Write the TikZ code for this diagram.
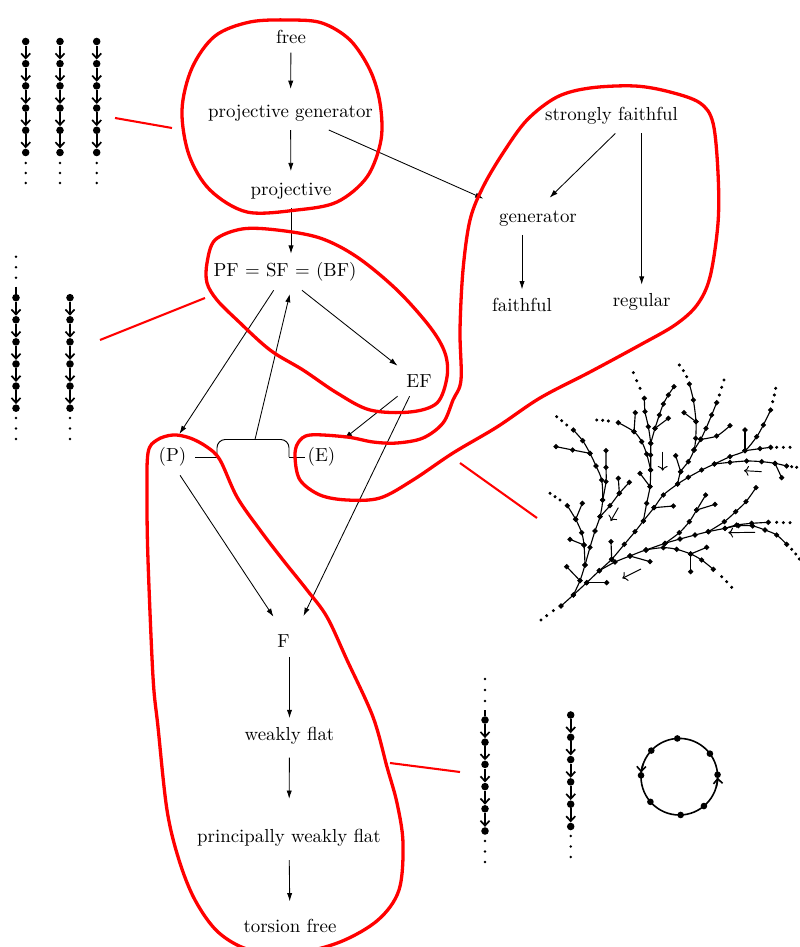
\documentclass[tikz,border=0pt]{standalone}
\usepackage{amsmath,amssymb}
\usetikzlibrary{arrows.meta}

\tikzset{
  prop/.style={inner sep=4.5pt},
  imp/.style={-{Latex[length=4.4pt,width=2.8pt]}, line width=0.45pt},
  blob/.style={red, line width=1.75pt},
  link/.style={red, line width=1.1pt},
  bar/.style={line width=0.5pt},
  vtx/.style={circle, fill, inner sep=0pt, minimum size=4pt},
  tdot/.style={circle, fill, inner sep=0pt, minimum size=1.4pt},
  cedge/.style={-{Straight Barb[length=2.6pt,width=4.8pt]}, line width=0.9pt},
  twig/.style={line width=0.6pt, mark size=1.05pt},
  tail/.style={mark size=0.6pt},
  flow/.style={-{To[length=2.5pt]}, line width=0.5pt},
}

\begin{document}
\begin{tikzpicture}[x=0.53pt, y=-0.53pt]
  \useasboundingbox (0,0) rectangle (800,947);

  % properties
  \node[prop] (free)   at (291,37)      {free};
  \node[prop] (projgen) at (290.5,113)  {projective generator};
  \node[prop] (proj)   at (291,191)     {projective};
  \node[prop] (pf)     at (285,272)     {PF $=$ SF $=$ (BF)};
  \node[prop] (ef)     at (419,381)     {EF};
  \node[prop] (P)      at (172.5,457)   {(P)};
  \node[prop] (E)      at (321.5,457)   {(E)};
  \node[prop] (F)      at (283.5,641.5) {F};
  \node[prop] (wflat)  at (289.5,735.5) {weakly flat};
  \node[prop] (pwflat) at (289,838)     {principally weakly flat};
  \node[prop] (tfree)  at (290,926)     {torsion free};
  \node[prop] (sfaith) at (611.5,116)   {strongly faithful};
  \node[prop] (gen)    at (538,218.3)   {generator};
  \node[prop] (faith)  at (522,305)     {faithful};
  \node[prop] (reg)    at (641.7,302)   {regular};

  % implications
  \draw[imp, shorten >=3.7pt] (free) -- (projgen);
  \draw[imp, shorten >=1.5pt] (projgen) -- (proj);
  \draw[imp] (proj.south) -- (proj.south |- pf.north);
  \draw[imp, shorten >=4pt] (projgen) -- (gen.north west);
  \draw[imp, shorten >=3pt] ([xshift=2pt]sfaith.south) -- ([xshift=4pt]gen.north);
  \draw[imp] (sfaith.south -| reg) -- (reg.north);
  \draw[imp] (gen.south -| faith) -- (faith.north);
  \draw[imp, shorten >=3pt] ([xshift=-6pt]pf.south) -- ([xshift=2pt]P.north);
  \draw[imp] ([xshift=9pt]pf.south) -- (ef.north west);
  \draw[imp] (ef.south west) -- (E.north east);
  \draw[imp, shorten >=6pt] ([xshift=-5pt]ef.south) -- (F.north east);
  \draw[imp, shorten >=6pt] ([xshift=4pt]P.south) -- ([xshift=-2pt]F.north);
  \draw[imp] (F.south -| wflat) -- (wflat.north);
  \draw[imp, shorten <=2.5pt, shorten >=11.5pt] (wflat) -- (pwflat);
  \draw[imp, shorten <=2.5pt, shorten >=4.8pt] (pwflat) -- (tfree);

  % (P) and (E) together
  \coordinate (bl) at (217,439.5);
  \coordinate (br) at (289,439.5);
  \coordinate (bm) at (255,439.5);
  \draw[bar] (P.east) -- (bl |- P.east);
  \draw[bar, rounded corners=4.4pt] (bl |- P.east) -- (bl) -- (br) -- (br |- E.west);
  \draw[bar] (br |- E.west) -- ([xshift=3pt]E.west);
  \draw[imp, shorten >=2pt] (bm) -- ([xshift=3pt]pf.south);

  % red outlines
  \draw[blob] plot[smooth cycle, tension=0.55] coordinates {
    (250,22) (290,20) (322,23) (350,40) (370,70) (380,103) (381,140) (367,177)
    (337,202) (297,210) (247,212) (210,190) (189,155) (182,110) (192,68) (215,36)};
  \draw[blob] plot[smooth cycle, tension=0.55] coordinates {
    (207,263) (215,240) (242,229) (277,230) (320,238) (357,257) (397,290) (430,327)
    (445,353) (447,377) (437,403) (410,412) (370,410) (337,393) (303,370) (270,350)
    (237,320) (217,300) (207,283)};
  \draw[blob] plot[smooth cycle, tension=0.55] coordinates {
    (298,443) (310,435) (347,437) (373,442) (397,443) (423,438) (443,423) (453,400)
    (461,380) (460,330) (463,270) (470,220) (483,187) (503,153) (527,120) (557,97)
    (590,88) (635,86) (670,92) (700,103) (713,123) (718,173) (718,223) (710,277)
    (697,305) (675,325) (640,345) (590,372) (540,398) (497,427) (453,453) (413,480)
    (380,498) (347,500) (320,495) (300,480) (295,457)};
  \draw[blob] plot[smooth cycle, tension=0.55] coordinates {
    (148,453) (157,440) (173,435) (190,438) (207,447) (220,460) (237,497) (260,530)
    (283,560) (307,590) (327,617) (347,660) (373,717) (387,767) (397,803) (403,843)
    (399,890) (378,920) (340,942) (295,953) (250,950) (218,932) (195,900) (179,860)
    (167,810) (158,727) (153,677) (148,560) (147,500)};
  \draw[link] (115,118) -- (172,128);
  \draw[link] (100,340) -- (205,298);
  \draw[link] (460,463) -- (537,518);
  \draw[link] (390,763) -- (460,772);

  % chains, top left
  \foreach \cx [count=\c] in {25.7,60,96.7} {
    \foreach \k in {0,...,5}
      \node[vtx] (a\c-\k) at (\cx,{41.5+22.2*\k}) {};
    \foreach \k in {0,...,4} {
      \pgfmathtruncatemacro{\j}{\k+1}
      \draw[cedge] (a\c-\k) -- (a\c-\j);
    }
    \foreach \k in {0,1,2}
      \node[tdot] (a\c-d\k) at (\cx,{163+10*\k}) {};
  }

  % chains, middle left
  \foreach \cx [count=\c] in {16,70} {
    \foreach \k in {0,...,5}
      \node[vtx] (b\c-\k) at (\cx,{297.7+22.1*\k}) {};
    \foreach \k in {0,...,4} {
      \pgfmathtruncatemacro{\j}{\k+1}
      \draw[cedge] (b\c-\k) -- (b\c-\j);
    }
    \foreach \k in {0,1,2}
      \node[tdot] (b\c-d\k) at (\cx,{418+10.5*\k}) {};
  }
  \foreach \k in {0,1,2}
    \node[tdot] (b1-u\k) at (16,{256.7+10.5*\k}) {};
  \coordinate (b1-top) at (16,286.7);
  \draw[line width=0.9pt] (b1-top) -- (b1-0);

  % chains, bottom right
  \foreach \k in {0,...,5} {
    \node[vtx] (c1-\k) at (485,{720+22.2*\k}) {};
    \node[vtx] (c2-\k) at (570.7,{715+22.3*\k}) {};
  }
  \foreach \k in {0,...,4} {
    \pgfmathtruncatemacro{\j}{\k+1}
    \draw[cedge] (c1-\k) -- (c1-\j);
    \draw[cedge] (c2-\k) -- (c2-\j);
  }
  \foreach \k in {0,1,2} {
    \node[tdot] (c1-u\k) at (485,{679+11*\k}) {};
    \node[tdot] (c1-d\k) at (485,{841+10.5*\k}) {};
    \node[tdot] (c2-d\k) at (570.7,{836+10.5*\k}) {};
  }
  \coordinate (c1-top) at (485,710);
  \draw[line width=0.9pt] (c1-top) -- (c1-0);

  % cycle
  \coordinate (cc) at (679.3,776.7);
  \draw[line width=0.85pt] (cc) circle (38.3);
  \foreach \a in {93,37,3,-50,-88,-139,178,137}
    \node[vtx, minimum size=3.5pt] (o\a) at ([shift={(-\a:38.3)}]cc) {};
  \draw[cedge, line width=0.85pt, shorten >=1.5pt] ([shift={(15:38.3)}]cc) arc (15:-3:38.3);
  \draw[cedge, line width=0.85pt, shorten >=1.5pt] ([shift={(-160:38.3)}]cc) arc (-160:-178:38.3);

  % tree
  \begin{scope}[shift={(530,360)}, x=0.17667pt, y=-0.17667pt]
    % branches
    \draw[twig] plot[smooth, mark=*] coordinates {(93,738) (130,705) (170,668) (208,632) (245,598)
      (283,553) (315,515) (340,483) (372,443) (400,405) (443,372) (475,352) (515,330) (553,312)
      (600,290) (645,272) (680,230) (700,195) (722,150)};
    \draw[twig] plot[smooth, mark=*] coordinates {(130,705) (150,662) (165,615) (180,562) (195,513)
      (210,470) (218,420) (215,360) (198,318) (180,280) (158,242) (130,210)};
    \draw[twig] plot[smooth, mark=*] coordinates {(165,615) (162,555) (155,518) (137,478) (112,437)};
    \draw[twig] plot[mark=*] coordinates {(150,662) (110,620)};
    \draw[twig] plot[mark=*] coordinates {(180,280) (128,270) (78,260)};
    \draw[twig] plot[mark=*] coordinates {(162,555) (120,538)};
    \draw[twig] plot[mark=*] coordinates {(137,478) (157,430)};
    \draw[twig] plot[smooth, mark=*] coordinates {(218,420) (228,365) (228,322) (228,272)};
    \draw[twig] plot[smooth, mark=*] coordinates {(210,470) (240,437) (268,400) (298,367)};
    \draw[twig] plot[mark=*] coordinates {(268,400) (265,355)};
    \draw[twig] plot[mark=*] coordinates {(170,668) (230,668)};
    \draw[twig] plot[mark=*] coordinates {(245,598) (243,545)};
    \draw[twig] plot[mark=*] coordinates {(372,443) (430,438)};
    \draw[twig] plot[smooth, mark=*] coordinates {(340,483) (350,430) (360,380) (362,330) (362,285)
      (362,250) (355,200) (345,155) (343,115)};
    \draw[twig] plot[mark=*] coordinates {(360,380) (330,340)};
    \draw[twig] plot[smooth, mark=*] coordinates {(362,330) (350,282) (335,245) (312,215) (265,188)};
    \draw[twig] plot[mark=*] coordinates {(312,215) (316,158)};
    \draw[twig] plot[smooth, mark=*] coordinates {(362,250) (375,205) (388,165) (400,132) (415,105) (432,80)};
    \draw[twig] plot[mark=*] coordinates {(375,205) (415,175)};
    \draw[twig] plot[smooth, mark=*] coordinates {(443,372) (452,335) (475,305) (492,270) (497,235)
      (498,185) (490,120) (478,72)};
    \draw[twig] plot[mark=*] coordinates {(452,335) (437,287)};
    \draw[twig] plot[mark=*] coordinates {(498,185) (462,158)};
    \draw[twig] plot[smooth, mark=*] coordinates {(492,270) (512,238) (528,205) (545,165) (560,128)};
    \draw[twig] plot[smooth, mark=*] coordinates {(512,238) (560,228) (600,197)};
    \draw[twig] plot[smooth, mark=*] coordinates {(553,312) (600,307) (650,303) (695,305) (735,310) (770,318)};
    \draw[twig] plot[mark=*] coordinates {(735,310) (755,353)};
    \draw[twig] plot[smooth, mark=*] coordinates {(645,272) (690,266) (722,262)};
    \draw[twig] plot[mark=*] coordinates {(645,272) (645,210)};
    \draw[twig] plot[smooth, mark=*] coordinates {(208,632) (255,606) (300,588) (348,570) (400,563)
      (440,568) (482,582) (515,600) (550,628)};
    \draw[twig] plot[mark=*] coordinates {(300,588) (360,605)};
    \draw[twig] plot[mark=*] coordinates {(482,582) (530,562)};
    \draw[twig] plot[mark=*] coordinates {(482,582) (482,635)};
    \draw[twig] plot[smooth, mark=*] coordinates {(348,570) (405,550) (450,537) (495,525) (535,515)
      (585,505) (625,497) (668,498) (705,510) (740,525) (770,553)};
    \draw[twig] plot[smooth, mark=*] coordinates {(585,505) (620,495) (665,490) (715,487)};
    \draw[twig] plot[smooth, mark=*] coordinates {(405,550) (448,518) (478,485) (500,450) (527,405)};
    \draw[twig] plot[mark=*] coordinates {(500,450) (555,433)};
    \draw[twig] plot[smooth, mark=*] coordinates {(535,515) (583,485) (617,455) (648,425) (678,383)};
    % loose ends
    \fill plot[only marks, mark=*, tail] coordinates {(70,752) (50,767) (33,780)
      (110,195) (95,182) (80,170) (90,420) (75,410) (60,400)
      (330,85) (320,62) (310,38) (235,183) (218,181) (200,180)
      (470,50) (460,32) (448,15) (568,105) (575,82) (582,60)
      (728,125) (733,105) (737,85) (785,320) (800,322)
      (740,262) (760,262) (780,262) (575,650) (590,665) (605,682)
      (785,568) (797,582) (808,597) (740,487) (760,488) (780,488)};
    % direction marks
    \draw[flow] (398,275) -- (398,332);
    \draw[flow] (265,443) -- (242,483);
    \draw[flow] (695,335) -- (642,332);
    \draw[flow] (675,517) -- (595,518);
    \draw[flow] (333,627) -- (277,655);
  \end{scope}
\end{tikzpicture}
\end{document}
